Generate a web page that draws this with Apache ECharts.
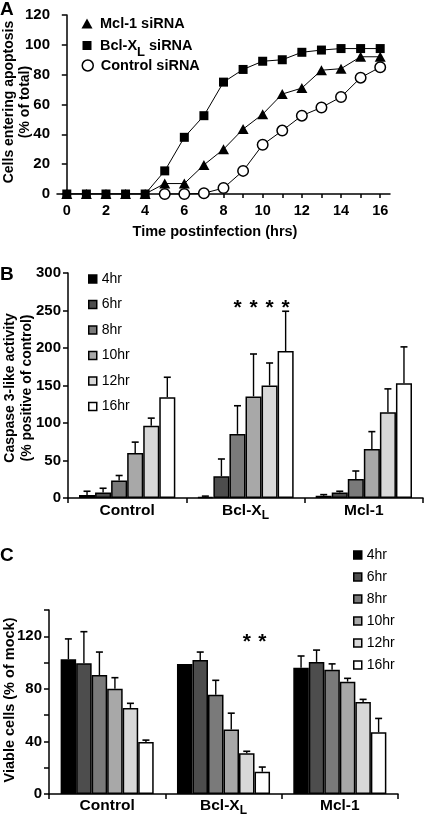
<!DOCTYPE html>
<html><head><meta charset="utf-8">
<script src="https://cdn.jsdelivr.net/npm/echarts@6/dist/echarts.min.js"></script>
<style>html,body{margin:0;padding:0;background:#fff}#c{width:425px;height:817px}</style>
</head><body><div id="c"></div>
<script>
const FONT = '"Liberation Sans", Arial, Helvetica, sans-serif';

// ---------- Panel A : cells entering apoptosis (% of total) ----------
const hours = [0,1,2,3,4,5,6,7,8,9,10,11,12,13,14,15,16];
const apopMcl1 = [0,0,0,0,0,7,7,19.5,30,43.5,53.5,67,71,83,84,92,92];
const apopBclxl = [0,0,0,0,0,15.5,38,52.5,75,83.5,89,90,95,96.5,97.5,97.5,97.5];
const apopControl = [null,null,null,null,null,0,0,0.5,4,15.5,33,42.5,52.5,58,65,78,85];
const hourTickLabels = [0,2,4,6,8,10,12,14,16];

// ---------- Panels B and C ----------
const groups = ['Control','Bcl-XL','Mcl-1'];
const timepoints = ['4hr','6hr','8hr','10hr','12hr','16hr'];
const barColors = ['#000000','#4d4d4d','#7a7a7a','#a8a8a8','#d8d8d8','#ffffff'];

// B: caspase 3-like activity (% positive of control), per group, per time point
const caspControl = [4,7.5,23.5,60,96.5,134.5];
const caspControlErr = [5,5.5,6.5,14.5,10,26.5];
const caspBclxl = [1.5,29,85.5,135.5,150,196];
const caspBclxlErr = [1,23,37.5,56.5,30,53];
const caspMcl1 = [3,7.5,25.5,65.5,114.5,153];
const caspMcl1Err = [1.5,1.5,10.5,23,31,48.5];
const caspStarGroup = 1;
const caspStarTimes = [2,3,4,5];
const caspStarLevel = 260;

// C: viable cells (% of mock)
const viaControl = [102.5,99.5,90.5,80,65.5,39.5];
const viaControlErr = [15.5,24,17.5,8.5,3.5,1.5];
const viaBclxl = [99,102,75.5,49,31,17];
const viaBclxlErr = [0,6,11,12.5,1.5,3.5];
const viaMcl1 = [96,100.5,94.5,85.5,70,47];
const viaMcl1Err = [9,9,4.5,2.5,2,10.5];
const viaStarGroup = 1;
const viaStarTimes = [4,5];
const viaStarLevel = 119.5;

const GAP_B = 0.186, GAP_C = 0.20;

function barSeries(p, gap, sets) {
  return timepoints.map((tp, t) => ({
    name: tp, type: 'bar', xAxisIndex: p, yAxisIndex: p,
    barGap: '0%', barCategoryGap: (gap * 100) + '%',
    data: sets.map(s => s[t]),
    itemStyle: {color: barColors[t], borderColor: '#000', borderWidth: 1.5},
    emphasis: {disabled: true}, silent: true, z: 2
  }));
}
function groupX(api, g, t, gap) {
  const band = api.size([1, 0])[0];
  const gw = band * (1 - gap);
  return api.coord([g, 0])[0] - gw / 2 + gw / 6 * (t + 0.5);
}
function errSeries(p, gap, vals, errs) {
  const data = [];
  vals.forEach((arr, g) => arr.forEach((v, t) => data.push([g, v, v + errs[g][t], t])));
  return {
    type: 'custom', xAxisIndex: p, yAxisIndex: p, data, z: 3, silent: true,
    encode: {x: 0, y: 1},
    renderItem: (params, api) => {
      const g = api.value(0), v = api.value(1), hi = api.value(2), t = api.value(3);
      if (hi - v < 0.3) return null;
      const cx = groupX(api, g, t, gap);
      const y1 = api.coord([g, v])[1], y2 = api.coord([g, hi])[1];
      return {type: 'group', children: [
        {type: 'line', shape: {x1: cx, y1: y1, x2: cx, y2: y2}, style: {stroke: '#000', lineWidth: 1.4}},
        {type: 'line', shape: {x1: cx - 3.5, y1: y2, x2: cx + 3.5, y2: y2}, style: {stroke: '#000', lineWidth: 1.6}}
      ]};
    }
  };
}
function starSeries(p, gap, g, times, level) {
  return {
    type: 'custom', xAxisIndex: p, yAxisIndex: p, z: 4, silent: true,
    data: times.map(t => [g, level, t]), encode: {x: 0, y: 1},
    renderItem: (params, api) => {
      const t = api.value(2);
      const cx = groupX(api, api.value(0), t, gap);
      const y = api.coord([api.value(0), api.value(1)])[1];
      return {type: 'text', x: cx, y: y + 5,
        style: {text: '*', fontSize: 21, fontWeight: 'bold', fontFamily: FONT, fill: '#000', align: 'center', verticalAlign: 'middle'}};
    }
  };
}

const catRich = {
  m: {fontSize: 15.5, fontWeight: 'bold', fontFamily: FONT, color: '#000', verticalAlign: 'top'},
  s: {fontSize: 12, fontWeight: 'bold', fontFamily: FONT, color: '#000', verticalAlign: 'top', padding: [7, 0, 0, 0]}
};
const catFormatter = v => v === 'Bcl-XL' ? '{m|Bcl-X}{s|L}' : '{m|' + v + '}';

const axisLineStyle = {lineStyle: {color: '#000', width: 1.5}};
const tickStyle = {show: true, length: 5, lineStyle: {color: '#000', width: 1.5}};
const yLab = {color: '#000', fontWeight: 'bold', fontSize: 15, fontFamily: FONT, margin: 7};

function apopSeries(name, arr, symbol, size, fill, z) {
  return {
    name, type: 'line', xAxisIndex: 0, yAxisIndex: 0, z,
    data: hours.map((h, i) => [h, arr[i]]),
    symbol, symbolSize: size, showSymbol: true, connectNulls: false,
    lineStyle: {color: '#000', width: 1},
    itemStyle: {color: fill, borderColor: '#000', borderWidth: fill === '#fff' ? 1.5 : 0},
    emphasis: {disabled: true}, silent: true
  };
}

const legendA = (name, icon, w, h, top, style) => ({
  data: [{name, icon, itemStyle: style}], orient: 'vertical', left: 87 - w / 2, top, itemWidth: w, itemHeight: h,
  selectedMode: false, padding: 0,
  formatter: n => n === 'Bcl-XL siRNA' ? '{m|Bcl-X}{s|L}{m| siRNA}' : '{m|' + n + '}',
  textStyle: {padding: [0, 0, 0, 100 - (87 + w / 2) - 5],
    rich: {
      m: {fontSize: 14.5, fontWeight: 'bold', fontFamily: FONT, color: '#000'},
      s: {fontSize: 13, fontWeight: 'bold', fontFamily: FONT, color: '#000', padding: [14, 0, 0, 0]}
    }}
});
const legendBars = (left, top, gap) => ({
  data: timepoints, orient: 'vertical', left, top, itemWidth: 8, itemHeight: 8, itemGap: gap,
  icon: 'rect', selectedMode: false, padding: 0,
  itemStyle: {borderColor: '#000', borderWidth: 1.5},
  textStyle: {fontSize: 14, fontFamily: FONT, color: '#000'}
});

const option = {
  animation: false,
  backgroundColor: '#fff',
  grid: [
    {left: 57, top: 15, width: 333, height: 179},
    {left: 68, top: 273, width: 355, height: 225},
    {left: 49, top: 610, width: 349, height: 186}
  ],
  xAxis: [
    {type: 'value', gridIndex: 0, min: -0.5, max: 16.5, splitLine: {show: false},
      axisLine: axisLineStyle, axisTick: Object.assign({}, tickStyle, {length: 4, customValues: hours}),
      axisLabel: {customValues: hourTickLabels, color: '#000', fontWeight: 'bold', fontSize: 14.5, fontFamily: FONT, margin: 9}},
    {type: 'category', gridIndex: 1, data: groups, axisLine: axisLineStyle, axisTick: tickStyle,
      axisLabel: {formatter: catFormatter, rich: catRich, margin: 5, interval: 0}},
    {type: 'category', gridIndex: 2, data: groups, axisLine: axisLineStyle, axisTick: tickStyle,
      axisLabel: {formatter: catFormatter, rich: catRich, margin: 4, interval: 0}}
  ],
  yAxis: [
    {type: 'value', gridIndex: 0, min: 0, max: 120, interval: 20, splitLine: {show: false},
      axisLine: Object.assign({show: true}, axisLineStyle), axisTick: tickStyle, axisLabel: yLab},
    {type: 'value', gridIndex: 1, min: 0, max: 300, interval: 50, splitLine: {show: false},
      axisLine: Object.assign({show: true}, axisLineStyle), axisTick: tickStyle, axisLabel: yLab},
    {type: 'value', gridIndex: 2, min: 0, max: 140, interval: 20, splitLine: {show: false},
      axisLine: Object.assign({show: true}, axisLineStyle), axisTick: tickStyle,
      axisLabel: Object.assign({}, yLab, {formatter: v => (v % 40 === 0 ? String(v) : '')})}
  ],
  legend: [
    legendA('Mcl-1 siRNA', 'triangle', 11, 10, 16, {color: '#000', borderWidth: 0}),
    legendA('Bcl-XL siRNA', 'rect', 9, 9, 38, {color: '#000', borderWidth: 0}),
    legendA('Control siRNA', 'circle', 11, 11, 58, {color: '#fff', borderColor: '#000', borderWidth: 1.5}),
    legendBars(88, 272, 11.5),
    legendBars(353, 548, 8)
  ],
  graphic: [
    {type: 'text', left: 0, top: 0, style: {text: 'A', fontSize: 19, fontWeight: 'bold', fontFamily: FONT, fill: '#000'}},
    {type: 'text', left: 0, top: 265, style: {text: 'B', fontSize: 19, fontWeight: 'bold', fontFamily: FONT, fill: '#000'}},
    {type: 'text', left: 0, top: 546, style: {text: 'C', fontSize: 19, fontWeight: 'bold', fontFamily: FONT, fill: '#000'}},
    {type: 'text', x: 17, y: 102, rotation: Math.PI / 2,
      style: {text: 'Cells entering apoptosis\n(% of total)', fontSize: 14, fontWeight: 'bold', fontFamily: FONT, fill: '#000', align: 'center', verticalAlign: 'middle', lineHeight: 16}},
    {type: 'text', x: 215, y: 232,
      style: {text: 'Time postinfection (hrs)', fontSize: 14.5, fontWeight: 'bold', fontFamily: FONT, fill: '#000', align: 'center', verticalAlign: 'middle'}},
    {type: 'text', x: 19, y: 388, rotation: Math.PI / 2,
      style: {text: 'Caspase 3-like activity\n(% positive of control)', fontSize: 14, fontWeight: 'bold', fontFamily: FONT, fill: '#000', align: 'center', verticalAlign: 'middle', lineHeight: 17}},
    {type: 'text', x: 10, y: 700, rotation: Math.PI / 2,
      style: {text: 'Viable cells (% of mock)', fontSize: 14.5, fontWeight: 'bold', fontFamily: FONT, fill: '#000', align: 'center', verticalAlign: 'middle'}}
  ],
  series: [
    apopSeries('Control siRNA', apopControl, 'circle', 10.5, '#fff', 2),
    apopSeries('Mcl-1 siRNA', apopMcl1, 'triangle', [11, 10], '#000', 3),
    apopSeries('Bcl-XL siRNA', apopBclxl, 'rect', 9, '#000', 4),
    ...barSeries(1, GAP_B, [caspControl, caspBclxl, caspMcl1]),
    errSeries(1, GAP_B, [caspControl, caspBclxl, caspMcl1], [caspControlErr, caspBclxlErr, caspMcl1Err]),
    starSeries(1, GAP_B, caspStarGroup, caspStarTimes, caspStarLevel),
    ...barSeries(2, GAP_C, [viaControl, viaBclxl, viaMcl1]),
    errSeries(2, GAP_C, [viaControl, viaBclxl, viaMcl1], [viaControlErr, viaBclxlErr, viaMcl1Err]),
    starSeries(2, GAP_C, viaStarGroup, viaStarTimes, viaStarLevel)
  ]
};
const chart = echarts.init(document.getElementById('c'), null, {renderer: 'canvas'});
chart.setOption(option);
</script></body></html>
